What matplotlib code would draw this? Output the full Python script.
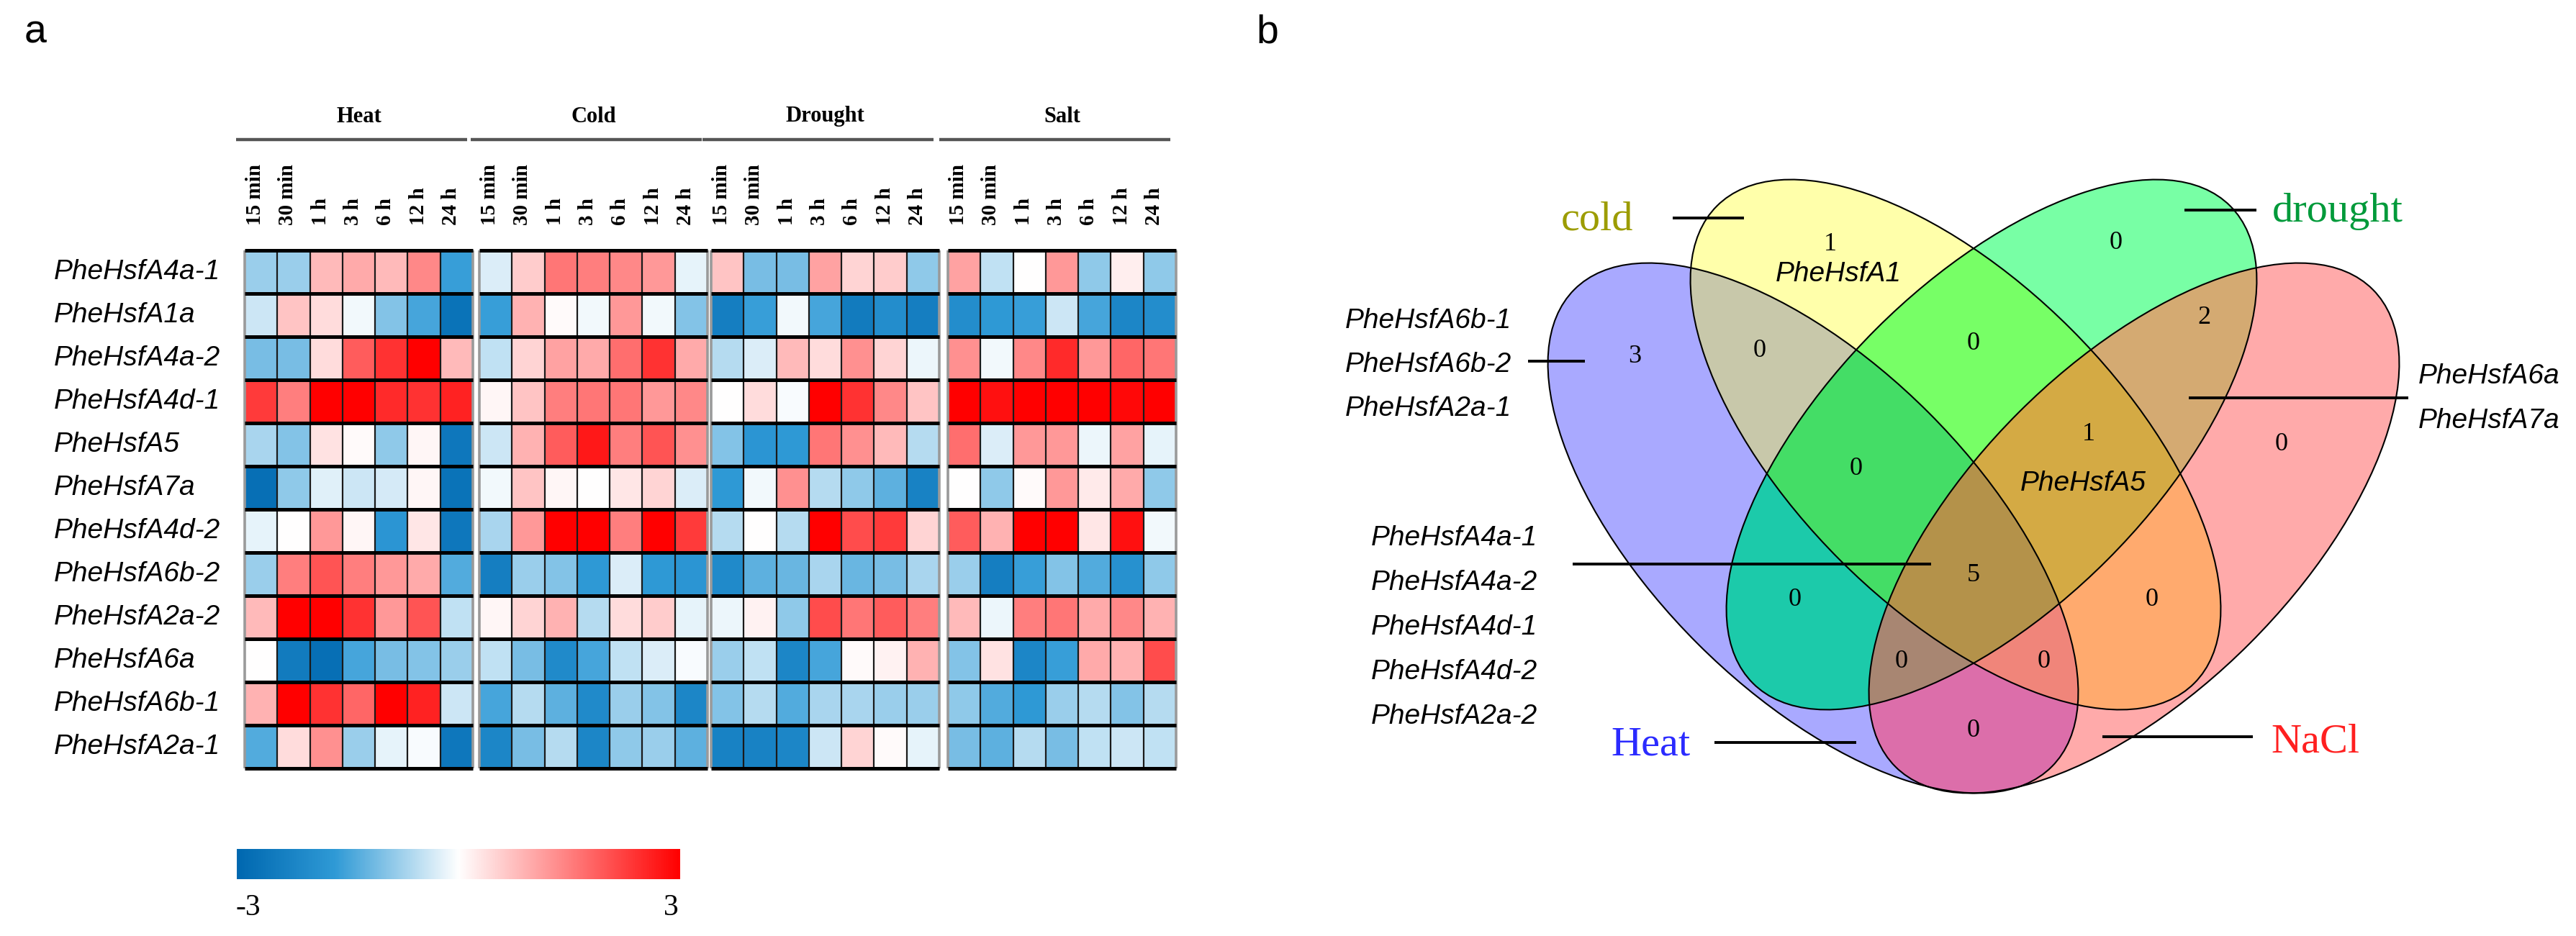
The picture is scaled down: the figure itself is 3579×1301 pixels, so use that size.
""" Heatmap of PheHsf expression under four stresses (a) and
    a four-set Venn diagram of the responsive genes (b) """

import numpy as np
import matplotlib
matplotlib.use('Agg')
import matplotlib.pyplot as plt
from matplotlib.colors import LinearSegmentedColormap, to_rgba
from matplotlib.patches import Ellipse

W, H = 3579, 1301

# ---------------- data: heatmap ----------------
genes = ['PheHsfA4a-1', 'PheHsfA1a', 'PheHsfA4a-2', 'PheHsfA4d-1', 'PheHsfA5', 'PheHsfA7a',
         'PheHsfA4d-2', 'PheHsfA6b-2', 'PheHsfA2a-2', 'PheHsfA6a', 'PheHsfA6b-1', 'PheHsfA2a-1']
stresses = ['Heat', 'Cold', 'Drought', 'Salt']
times = ['15 min', '30 min', '1 h', '3 h', '6 h', '12 h', '24 h']

heat = [
    [-0.8, -0.8, 0.8, 1.0, 0.8, 1.4, -1.6],
    [-0.4, 0.7, 0.4, -0.1, -1.0, -1.5, -2.7],
    [-1.1, -1.1, 0.4, 1.9, 2.4, 3.0, 0.8],
    [2.3, 1.5, 3.0, 3.0, 2.5, 2.4, 2.6],
    [-0.7, -1.0, 0.35, 0.05, -0.9, 0.1, -2.6],
    [-2.8, -0.9, -0.25, -0.4, -0.35, 0.1, -2.7],
    [-0.2, 0.0, 1.2, 0.1, -1.8, 0.3, -2.6],
    [-0.8, 1.5, 2.0, 1.5, 1.2, 1.0, -1.4],
    [0.8, 3.0, 3.0, 2.4, 1.2, 2.0, -0.5],
    [0.0, -2.5, -2.8, -1.5, -1.1, -1.0, -0.8],
    [0.9, 3.0, 2.4, 1.8, 3.0, 2.6, -0.4],
    [-1.4, 0.4, 1.3, -0.8, -0.2, -0.05, -2.6],
]
cold = [
    [-0.3, 0.6, 1.6, 1.5, 1.4, 1.2, -0.2],
    [-1.6, 0.9, 0.05, -0.1, 1.2, -0.1, -1.0],
    [-0.5, 0.5, 1.1, 1.0, 1.7, 2.4, 1.0],
    [0.1, 0.7, 1.5, 1.6, 1.6, 1.2, 1.4],
    [-0.4, 0.9, 1.9, 2.7, 1.5, 2.0, 1.3],
    [-0.1, 0.7, 0.1, 0.0, 0.3, 0.5, -0.3],
    [-0.7, 1.2, 3.0, 3.0, 1.5, 3.0, 2.3],
    [-2.4, -0.8, -1.0, -1.7, -0.3, -1.7, -1.8],
    [0.1, 0.5, 0.9, -0.6, 0.4, 0.6, -0.2],
    [-0.5, -1.1, -2.1, -1.5, -0.5, -0.3, -0.05],
    [-1.5, -0.6, -1.3, -2.1, -0.8, -1.0, -2.2],
    [-2.2, -1.1, -0.6, -2.2, -0.9, -0.8, -1.3],
]
drought = [
    [0.7, -1.1, -1.1, 1.1, 0.5, 0.6, -0.9],
    [-2.4, -1.6, -0.1, -1.5, -2.5, -2.0, -2.4],
    [-0.6, -0.3, 0.8, 0.4, 1.3, 0.5, -0.15],
    [0.0, 0.4, -0.05, 3.0, 2.4, 1.4, 0.7],
    [-1.0, -1.8, -1.7, 1.6, 1.3, 0.8, -0.6],
    [-1.7, -0.1, 1.3, -0.6, -0.9, -1.3, -2.3],
    [-0.6, 0.0, -0.6, 3.0, 2.1, 2.3, 0.5],
    [-2.1, -1.3, -1.2, -0.7, -1.2, -1.1, -0.7],
    [-0.15, 0.15, -0.9, 2.1, 1.6, 1.9, 1.5],
    [-0.8, -0.5, -2.2, -1.5, 0.05, 0.15, 0.9],
    [-1.0, -0.6, -1.4, -0.7, -0.7, -0.8, -0.8],
    [-2.3, -2.3, -2.2, -0.4, 0.5, 0.05, -0.2],
]
salt = [
    [1.1, -0.5, 0.0, 1.2, -0.9, 0.2, -0.9],
    [-2.0, -1.7, -1.6, -0.4, -1.5, -2.2, -2.0],
    [1.3, -0.1, 1.4, 2.5, 1.2, 1.8, 1.6],
    [3.0, 2.8, 3.0, 3.0, 3.0, 2.9, 3.0],
    [1.7, -0.3, 1.2, 1.2, -0.15, 1.1, -0.2],
    [0.0, -0.9, 0.05, 1.2, 0.25, 1.0, -0.9],
    [1.9, 0.9, 3.0, 3.0, 0.3, 2.8, -0.1],
    [-0.8, -2.4, -1.6, -1.0, -1.4, -1.9, -0.9],
    [0.8, -0.15, 1.5, 1.6, 1.0, 1.4, 0.9],
    [-1.0, 0.35, -2.2, -1.6, 1.0, 0.9, 2.1],
    [-0.9, -1.4, -1.7, -0.8, -0.6, -1.0, -0.6],
    [-1.1, -1.3, -0.6, -1.1, -0.5, -0.4, -0.5],
]
blocks = [heat, cold, drought, salt]
scale_min, scale_max = -3, 3

# ---------------- data: venn ----------------
venn_sets = ['Heat', 'cold', 'drought', 'NaCl']
venn_keys = 'HCDN'
region_codes = ['H', 'C', 'D', 'N', 'HC', 'CD', 'DN', 'HN', 'HCD', 'CDN', 'HCDN', 'HD', 'CN', 'HDN', 'HCN']
region_counts = [3, 1, 0, 0, 0, 0, 2, 0, 0, 1, 5, 0, 0, 0, 0]
heat_only_genes = ['PheHsfA6b-1', 'PheHsfA6b-2', 'PheHsfA2a-1']
cold_only_genes = ['PheHsfA1']
drought_nacl_genes = ['PheHsfA6a', 'PheHsfA7a']
cold_drought_nacl_genes = ['PheHsfA5']
all_four_genes = ['PheHsfA4a-1', 'PheHsfA4a-2', 'PheHsfA4d-1', 'PheHsfA4d-2', 'PheHsfA2a-2']

# ---------------- styles / layout (pixels) ----------------
cmap = LinearSegmentedColormap.from_list(
    'bwr_hm', [(0.0, '#0068b0'), (0.22, '#2f9ad6'), (0.5, '#ffffff'), (1.0, '#ff0000')])
block_x = [340, 666, 988, 1317]
block_w = 317
hm_top, hm_bottom = 348, 1068

region_colors = {'H': '#a9a9ff', 'C': '#ffffaa', 'D': '#78ffa5', 'N': '#ffaaaa',
                 'HC': '#c8c8aa', 'CD': '#77ff66', 'DN': '#d4aa72', 'HN': '#dc6eaa',
                 'HCD': '#44dd66', 'CDN': '#d4aa44', 'HCDN': '#b4924a', 'HD': '#1ccaaa',
                 'CN': '#ffaa6e', 'HDN': '#a88672', 'HCN': '#f0857a'}
region_pos = {'H': (2271, 495), 'C': (2543, 340), 'D': (2940, 338), 'N': (3170, 618),
              'HC': (2445, 487), 'CD': (2742, 477), 'DN': (3062, 441), 'HN': (2742, 1016),
              'HCD': (2579, 652), 'CDN': (2902, 603), 'HCDN': (2742, 800), 'HD': (2494, 833),
              'CN': (2990, 833), 'HDN': (2642, 919), 'HCN': (2840, 919)}
ell_center = {'H': (2519, 734), 'C': (2717, 618), 'D': (2767, 618), 'N': (2965, 734)}
ell_angle = {'H': 45, 'C': 45, 'D': 135, 'N': 135}
ell_a, ell_b = 469, 227
set_label_style = {'Heat': ((2238, 1035), '#2b2bff'), 'cold': ((2169, 305), '#9c9c00'),
                   'drought': ((3157, 294), '#009a3a'), 'NaCl': ((3155, 1032), '#ff2020')}

SANS = 'Liberation Sans'
SERIF = 'Liberation Serif'

fig = plt.figure(figsize=(W / 100, H / 100), dpi=100)

# overlay axes in pixel coordinates
ov = fig.add_axes([0, 0, 1, 1])
ov.set_xlim(0, W)
ov.set_ylim(H, 0)
ov.axis('off')

ov.text(34, 45, 'a', fontsize=40, family=SANS, ha='left', va='center')
ov.text(1745, 45, 'b', fontsize=40, family=SANS, ha='left', va='center')

# ---------------- panel a: heatmap ----------------
n_rows = len(genes)
row_h = (hm_bottom - hm_top) / n_rows
for g, (x0, values) in enumerate(zip(block_x, blocks)):
    ax = fig.add_axes([x0 / W, (H - hm_bottom) / H, block_w / W, (hm_bottom - hm_top) / H])
    ax.pcolormesh(np.array(values), cmap=cmap, vmin=scale_min, vmax=scale_max)
    ax.set_xlim(0, len(times))
    ax.set_ylim(n_rows, 0)
    ax.vlines(range(1, len(times)), 0, n_rows, color='#1a1a1a', lw=1.6)
    ax.vlines([0, len(times)], 0, n_rows, color='#9a9a9a', lw=2.6, clip_on=False)
    ax.hlines(range(n_rows + 1), 0, len(times), color='black', lw=3.6, clip_on=False)
    ax.axis('off')

    # header
    ov.text(x0 + block_w / 2, 162, stresses[g], fontsize=22, family=SERIF,
            weight='bold', ha='center', va='center')
    ov.plot([x0 - 12, x0 + block_w - 8], [194, 194], color='#555555', lw=3.2,
            solid_capstyle='butt')
    cw = block_w / len(times)
    for j, t in enumerate(times):
        ov.text(x0 + (j + 0.5) * cw - 8, 313, t, rotation=90, fontsize=21,
                family=SERIF, weight='bold', ha='center', va='bottom')

for i, gname in enumerate(genes):
    ov.text(75, hm_top + (i + 0.5) * row_h, gname, fontsize=28, family=SANS,
            style='italic', ha='left', va='center')

# colour scale
cax = fig.add_axes([329 / W, (H - 1222) / H, 615 / W, 42 / H])
cax.imshow(np.linspace(scale_min, scale_max, 512)[None, :], aspect='auto',
           cmap=cmap, vmin=scale_min, vmax=scale_max)
cax.axis('off')
ov.text(345, 1262, str(scale_min), fontsize=30, family=SERIF, ha='center', va='center')
ov.text(932, 1262, str(scale_max), fontsize=30, family=SERIF, ha='center', va='center')

# ---------------- panel b: venn ----------------
gx0, gx1, gy0, gy1 = 2040, 3440, 220, 1120
xs = np.arange(gx0, gx1) + 0.5
ys = np.arange(gy0, gy1) + 0.5
XX, YY = np.meshgrid(xs, ys)
code = np.zeros(XX.shape, dtype=int)
for k, key in enumerate(venn_keys):
    cx, cy = ell_center[key]
    th = np.deg2rad(ell_angle[key])
    dx, dy = XX - cx, YY - cy
    u = dx * np.cos(th) + dy * np.sin(th)
    v = -dx * np.sin(th) + dy * np.cos(th)
    code |= ((u / ell_a) ** 2 + (v / ell_b) ** 2 <= 1).astype(int) << k

table = np.zeros((16, 4))
for r in region_codes:
    idx = sum(1 << venn_keys.index(ch) for ch in r)
    table[idx] = to_rgba(region_colors[r])
ov.imshow(table[code], extent=(gx0, gx1, gy1, gy0), interpolation='nearest',
          aspect='auto', zorder=1)
ov.set_xlim(0, W)
ov.set_ylim(H, 0)

for key in venn_keys:
    ov.add_patch(Ellipse(ell_center[key], 2 * ell_a, 2 * ell_b, angle=ell_angle[key],
                         fill=False, ec='black', lw=1.5, zorder=2))

for r, n in zip(region_codes, region_counts):
    x, y = region_pos[r]
    ov.text(x, y, str(n), fontsize=26, family=SERIF, ha='center', va='center', zorder=3)

for name in venn_sets:
    (x, y), col = set_label_style[name]
    ov.text(x, y, name, fontsize=42, family=SERIF, color=col, ha='left', va='center', zorder=3)

# leader lines
leaders = [((2324, 2423), 303), ((3035, 3135), 292), ((2382, 2579), 1032),
           ((2921, 3130), 1024), ((2123, 2202), 502), ((2185, 2683), 784),
           ((3041, 3346), 553)]
for (x_a, x_b), y in leaders:
    ov.plot([x_a, x_b], [y, y], color='black', lw=2.8, solid_capstyle='butt', zorder=4)

# gene names next to the diagram
gene_style = dict(fontsize=28, family=SANS, style='italic', va='center', zorder=3)
for i, gname in enumerate(heat_only_genes):
    ov.text(1869, 446 + 61 * i, gname, ha='left', **gene_style)
for i, gname in enumerate(all_four_genes):
    ov.text(1905, 748 + 62 * i, gname, ha='left', **gene_style)
for i, gname in enumerate(drought_nacl_genes):
    ov.text(3360, 523 + 62 * i, gname, ha='left', **gene_style)
ov.text(2554, 381, cold_only_genes[0], ha='center', **gene_style)
ov.text(2894, 672, cold_drought_nacl_genes[0], ha='center', **gene_style)

fig.savefig('out.png', dpi=100, facecolor='white')
